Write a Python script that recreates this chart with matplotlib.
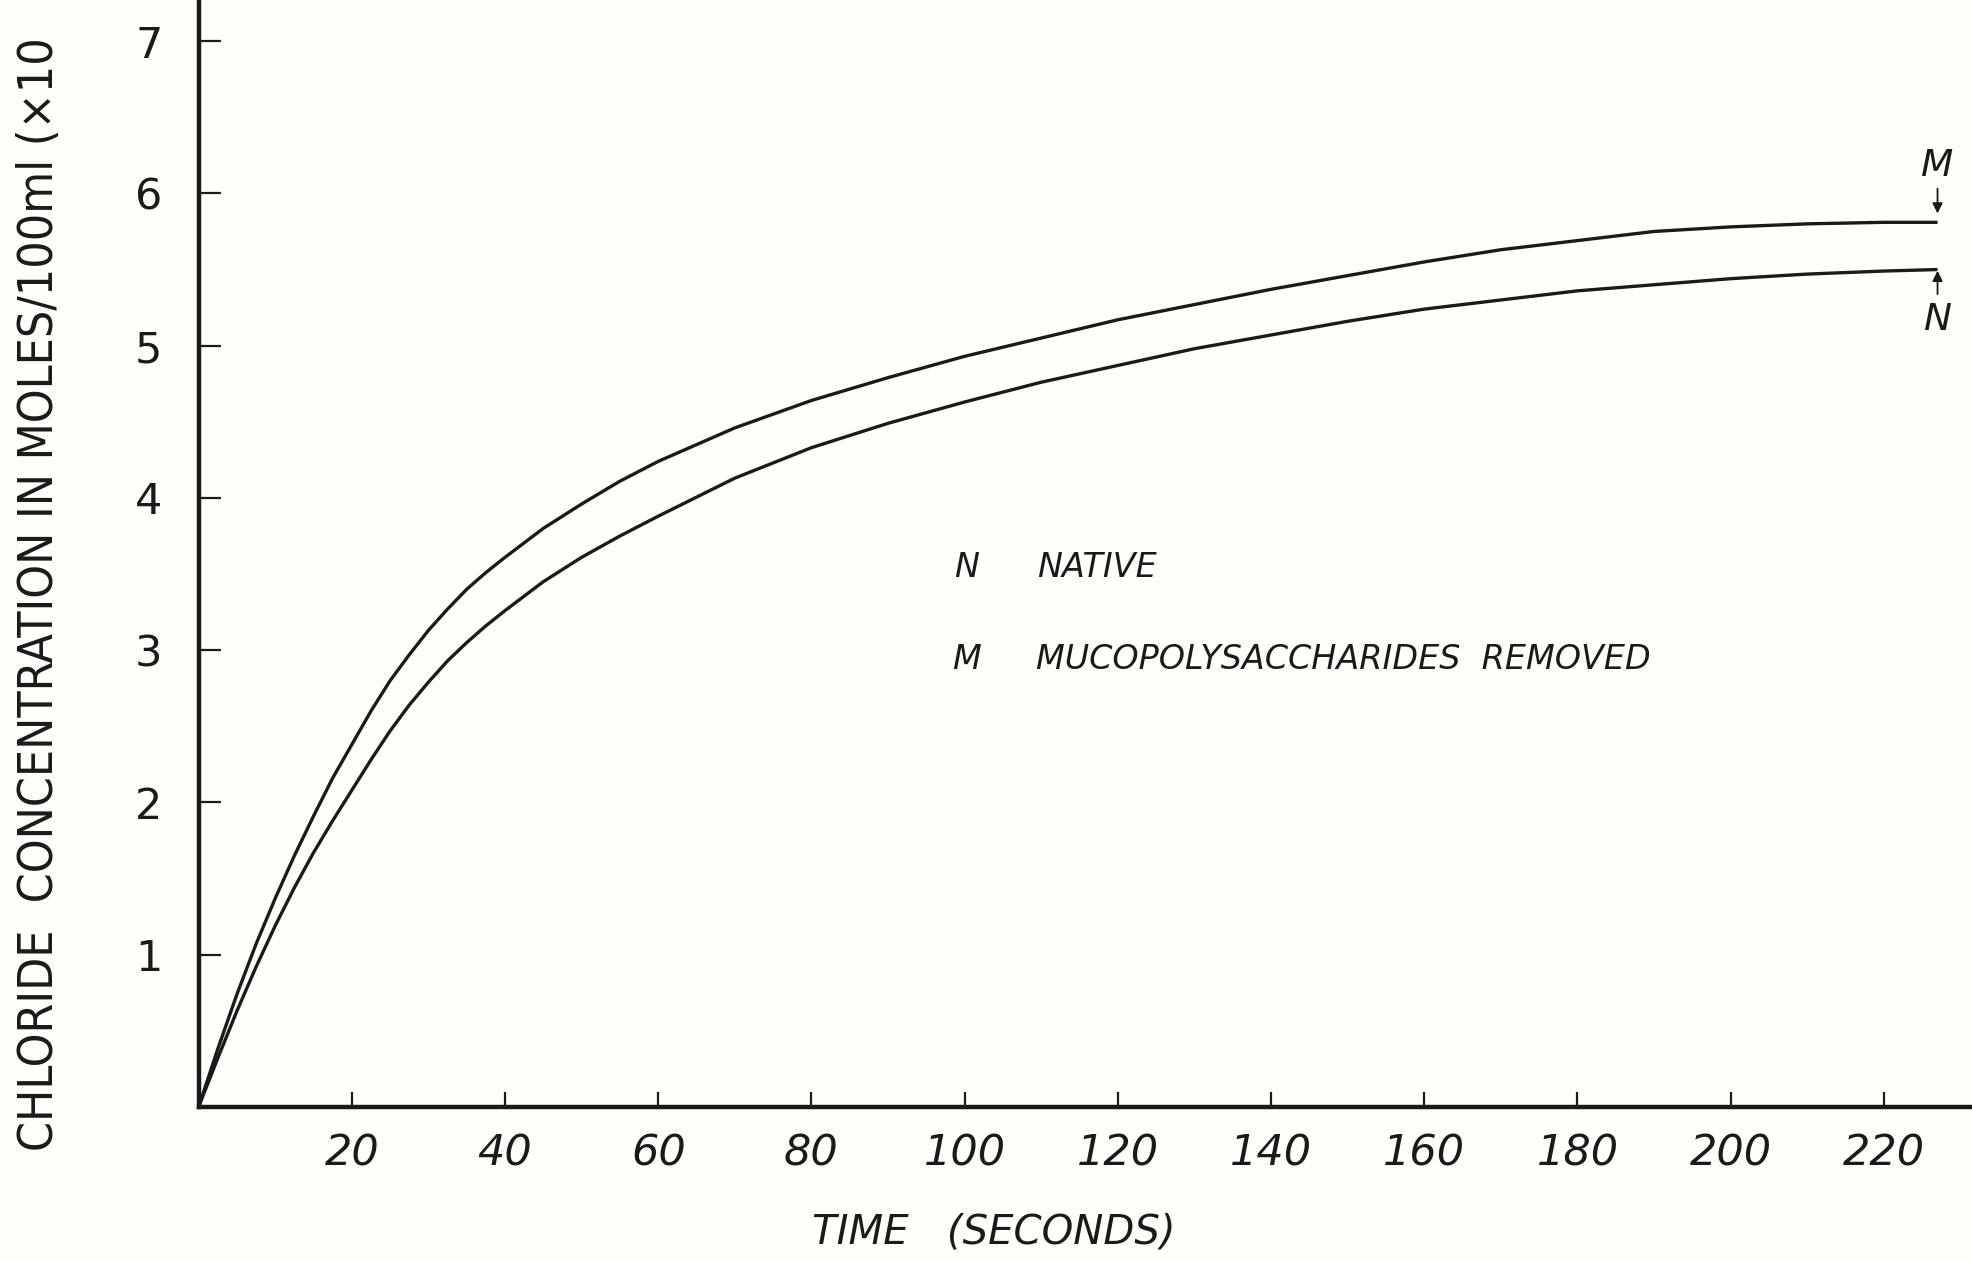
import numpy as np
import matplotlib
matplotlib.use("Agg")
import matplotlib.pyplot as plt

# values (time in s, concentration)
time_s = [0, 2.5, 5, 7.5, 10, 12.5, 15, 17.5, 20, 22.5, 25, 27.5, 30, 32.5, 35, 37.5, 40,
          45, 50, 55, 60, 70, 80, 90, 100, 110, 120, 130, 140, 150, 160, 170, 180, 190,
          200, 210, 220, 227]
conc_m = [0, 0.38, 0.74, 1.07, 1.37, 1.65, 1.91, 2.16, 2.38, 2.60, 2.80, 2.97, 3.13, 3.27,
          3.40, 3.51, 3.61, 3.80, 3.96, 4.11, 4.24, 4.46, 4.64, 4.79, 4.93, 5.05, 5.17, 5.27,
          5.37, 5.46, 5.55, 5.63, 5.69, 5.75, 5.78, 5.80, 5.81, 5.81]
conc_n = [0, 0.32, 0.63, 0.92, 1.19, 1.44, 1.67, 1.88, 2.08, 2.28, 2.47, 2.64, 2.79, 2.93,
          3.05, 3.16, 3.26, 3.45, 3.61, 3.75, 3.88, 4.13, 4.33, 4.49, 4.63, 4.76, 4.87, 4.98,
          5.07, 5.16, 5.24, 5.30, 5.36, 5.40, 5.44, 5.47, 5.49, 5.50]

xticks = [20, 40, 60, 80, 100, 120, 140, 160, 180, 200, 220]
yticks = [1, 2, 3, 4, 5, 6, 7]

ink = '#1a1a1a'
paper = '#fffffa'

fig = plt.figure(figsize=(19.72, 12.62), dpi=100, facecolor=paper)
ax = fig.add_axes([0.1007, 0.1228, 0.8993, 0.8772])
ax.set_facecolor(paper)

ax.plot(time_s, conc_m, color=ink, lw=2.4, solid_capstyle='butt', solid_joinstyle='round')
ax.plot(time_s, conc_n, color=ink, lw=2.4, solid_capstyle='butt', solid_joinstyle='round')

ax.set_xlim(0, 231.5)
ax.set_ylim(0, 7.27)

for s in ['top', 'right']:
    ax.spines[s].set_visible(False)
for s in ['left', 'bottom']:
    ax.spines[s].set_linewidth(3.2)
    ax.spines[s].set_color(ink)

ax.set_xticks(xticks)
ax.set_yticks(yticks)
ax.tick_params(axis='y', direction='in', length=16, width=1.6, color=ink,
               labelsize=31, pad=26, labelcolor=ink)
ax.tick_params(axis='x', direction='in', length=11, width=1.6, color=ink,
               labelsize=31, pad=18, labelcolor=ink)
for lab in ax.get_xticklabels():
    lab.set_fontstyle('italic')

# legend written inside the plot
ax.text(100.2, 3.54, 'N', fontsize=24, style='italic', color=ink, ha='center', va='center')
ax.text(109.5, 3.54, 'NATIVE', fontsize=24, style='italic', color=ink, ha='left', va='center')
ax.text(100.2, 2.94, 'M', fontsize=24, style='italic', color=ink, ha='center', va='center')
ax.text(109.3, 2.94, 'MUCOPOLYSACCHARIDES  REMOVED', fontsize=24, style='italic', color=ink,
        ha='left', va='center')

# curve end markers
ax.text(227, 6.18, 'M', fontsize=27, style='italic', color=ink, ha='center', va='center')
ax.annotate('', xy=(227, 5.85), xytext=(227, 6.05),
            arrowprops=dict(arrowstyle='-|>', color=ink, lw=1.3, mutation_scale=15))
ax.text(227, 5.17, 'N', fontsize=27, style='italic', color=ink, ha='center', va='center')
ax.annotate('', xy=(227, 5.51), xytext=(227, 5.32),
            arrowprops=dict(arrowstyle='-|>', color=ink, lw=1.3, mutation_scale=15))

fig.text(0.504, 0.024, 'TIME   (SECONDS)', fontsize=29, style='italic', color=ink,
         ha='center', va='center')
fig.text(0.020, 0.088, 'CHLORIDE  CONCENTRATION IN MOLES/100ml (×10',
         fontsize=34.5, fontstretch='condensed', color=ink,
         rotation=90, ha='center', va='bottom')

fig.savefig('out.png', dpi=100, facecolor=paper)
